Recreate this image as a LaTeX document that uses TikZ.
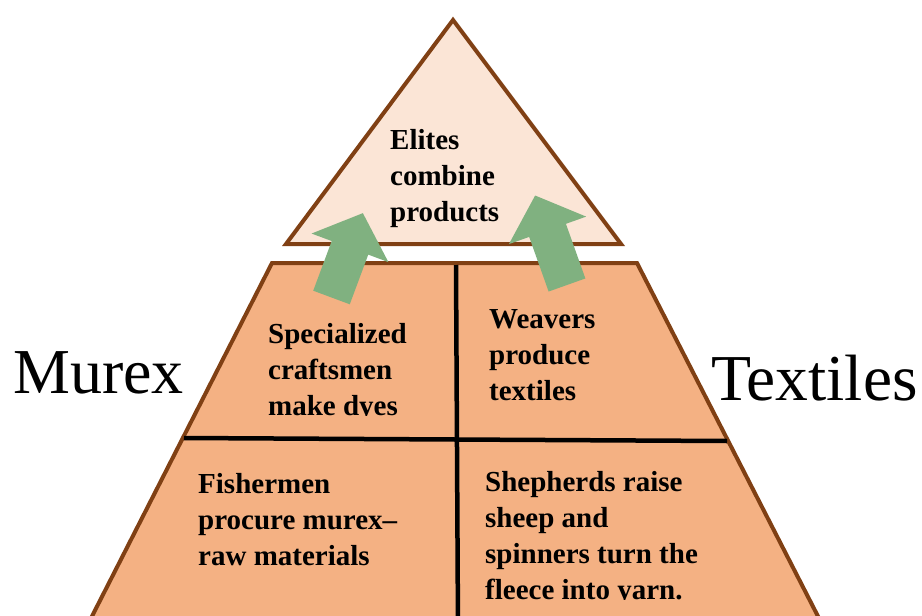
\documentclass[tikz,border=0pt]{standalone}
\usepackage{fontspec}
\setmainfont{Liberation Serif}
\definecolor{rim}{RGB}{128,64,20}
\definecolor{apexfill}{RGB}{251,229,214}
\definecolor{tierfill}{RGB}{244,177,131}
\definecolor{flow}{RGB}{128,177,128}
\newcommand\cellText[1]{\parbox[t]{9cm}{\raggedright #1}}
\tikzset{
  lbl/.style={inner sep=0pt, anchor=base west, font=\bfseries\fontsize{29}{36}\selectfont},
  big/.style={inner sep=0pt, anchor=base west, font=\fontsize{64}{70}\selectfont},
  tierline/.style={draw=rim, line width=4pt, line join=miter},
  divider/.style={draw=black, line width=4.5pt},
  flowarrow/.style={fill=flow, draw=none}
}
% block arrow pointing up in local coordinates
\newcommand\blockarrow[3]{%
  \begin{scope}[shift={#1}, rotate=#2]
    \path[flowarrow] (-19.5,0) -- (19.5,0) -- (19.5,{-(#3-37)}) -- (41,{-(#3-37)})
      -- (0,-#3) -- (-41,{-(#3-37)}) -- (-19.5,{-(#3-37)}) -- cycle;
  \end{scope}}
\begin{document}
\begin{tikzpicture}[x=1pt,y=-1pt]
  \useasboundingbox (0,0) rectangle (922,616);
  % apex triangle
  \path[tierline, fill=apexfill] (453,20) -- (621,244) -- (286,244) -- cycle;
  % lower tiers
  \path[tierline, fill=tierfill] (85,630) -- (272,263) -- (637,263) -- (825,630);
  \draw[divider] (184,438) -- (727,441);
  \draw[divider] (456,265) -- (458,630);
  % upward flows
  \blockarrow{(331.5,297.5)}{-20.4}{90}
  \blockarrow{(567,285)}{19.6}{95}
  % labels
  \node[lbl] (elites) at (390,149) {\cellText{Elites\\combine\\products}};
  \begin{scope}
    \clip (250,300) rectangle (452,415.5);
    \node[lbl] (dyers) at (268,343) {\cellText{Specialized\\craftsmen\\make dyes}};
  \end{scope}
  \node[lbl] (weavers) at (489,328) {\cellText{Weavers\\produce\\textiles}};
  \node[lbl] (fishers) at (198,493) {\cellText{Fishermen\\procure murex--\\raw materials}};
  \begin{scope}
    \clip (470,450) rectangle (800,599.5);
    \node[lbl] (shepherds) at (485,491) {\cellText{Shepherds raise\\sheep and\\spinners turn the\\fleece into yarn.}};
  \end{scope}
  \node[big] (murex) at (13,393) {Murex};
  \node[big, font=\fontsize{65.5}{70}\selectfont] (textiles) at (711,400) {Textiles};
\end{tikzpicture}
\end{document}
